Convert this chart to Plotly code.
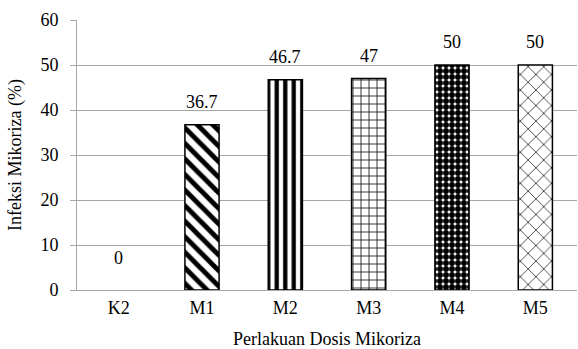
import plotly.graph_objects as go

categories = ["K2", "M1", "M2", "M3", "M4", "M5"]
values = [0, 36.7, 46.7, 47, 50, 50]
labels = ["0", "36.7", "46.7", "47", "50", "50"]
y_ticks = [0, 10, 20, 30, 40, 50, 60]

shapes = ["", "\\", "|", "+", ".", "x"]
sizes = [8, 11, 8.5, 8, 6, 11]
solid = [0.3, 0.45, 0.5, 0.18, 0.75, 0.12]

FONT = "Liberation Serif"
GRID = "#a6a6a6"
FS = 18

fig = go.Figure()
fig.add_trace(go.Bar(
    x=categories, y=values,
    marker=dict(
        color="white",
        line=dict(color="black", width=[0 if v == 0 else 1.5 for v in values]),
        pattern=dict(shape=shapes, size=sizes, solidity=solid,
                     fgcolor="black", bgcolor="white", fillmode="replace"),
    ),
    width=0.41,
    hoverinfo="skip",
))

for c, v, t in zip(categories, values, labels):
    fig.add_annotation(x=c, y=v, text=t, showarrow=False,
                       yshift=32 if v == 0 else 23,
                       font=dict(family=FONT, size=FS, color="black"))

fig.update_layout(
    width=578, height=349,
    margin=dict(l=77, r=1, t=20, b=59, autoexpand=False),
    paper_bgcolor="white", plot_bgcolor="white",
    showlegend=False,
    font=dict(family=FONT, size=FS, color="black"),
    bargap=0.59,
)
fig.update_xaxes(
    automargin=False,
    showline=True, linecolor=GRID, linewidth=1,
    ticks="", showgrid=False,
    ticklabelstandoff=1,
    title=dict(text="Perlakuan Dosis Mikoriza", font=dict(family=FONT, size=FS), standoff=15),
    tickfont=dict(family=FONT, size=FS),
)
fig.update_yaxes(
    automargin=False,
    range=[0, 60], tickvals=y_ticks,
    showline=True, linecolor=GRID, linewidth=1,
    ticks="outside", ticklen=6, tickcolor=GRID,
    ticklabelstandoff=8,
    showgrid=True, gridcolor=GRID, gridwidth=1,
    zeroline=False,
    title=dict(text="Infeksi Mikoriza (%)", font=dict(family=FONT, size=FS), standoff=14),
    tickfont=dict(family=FONT, size=FS),
)

fig.write_html("out.html", config={"displayModeBar": False},
               post_script="document.body.style.margin='0';document.body.style.overflow='hidden';")
